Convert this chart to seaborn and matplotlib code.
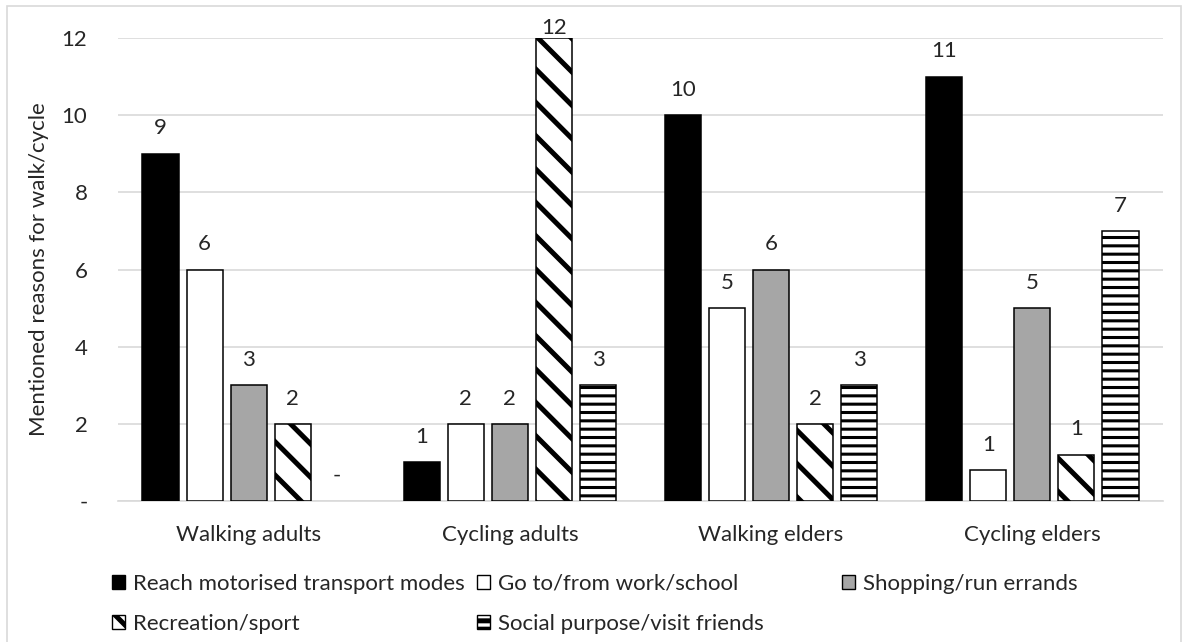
import numpy as np
import pandas as pd
import matplotlib
matplotlib.use("Agg")
import matplotlib.pyplot as plt
import seaborn as sns
from matplotlib.patches import Patch, Rectangle

# -------------------------------
# Data
# -------------------------------
groups = ["Walking adults", "Cycling adults", "Walking elders", "Cycling elders"]
reasons = ["Reach motorised transport modes", "Go to/from work/school",
           "Shopping/run errands", "Recreation/sport", "Social purpose/visit friends"]

reach = [9, 1, 10, 11]
work = [6, 2, 5, 0.8]
shopping = [3, 2, 6, 5]
recreation = [2, 12, 2, 1.2]
social = [0, 3, 3, 7]

y_ticks = [0, 2, 4, 6, 8, 10, 12]
y_tick_labels = ["-", "2", "4", "6", "8", "10", "12"]

bar_colors = ["black", "white", "#A6A6A6", "white", "white"]
bar_hatches = ["", "", "", "\\", "--"]
hatch_widths = [1.0, 1.0, 1.0, 3.6, 2.2]

df = pd.DataFrame(dict(zip(reasons, [reach, work, shopping, recreation, social])), index=groups)
df = df.reset_index(names="group").melt(id_vars="group", var_name="reason", value_name="count")

# -------------------------------
# Style
# -------------------------------
sns.set_style("white")
plt.rcParams["font.family"] = ["Lato", "DejaVu Sans"]
plt.rcParams["hatch.linewidth"] = 3.6
FS = 16
grid_col = "#D9D9D9"

W, H = 1185, 642
fig = plt.figure(figsize=(W / 100, H / 100), dpi=100)
ax = fig.add_axes([118 / W, 1 - 501 / H, (1163 - 118) / W, (501 - 38) / H])

sns.barplot(data=df, x="group", y="count", hue="reason", order=groups, hue_order=reasons,
            palette=dict(zip(reasons, bar_colors)), saturation=1, width=0.843, gap=0.18,
            edgecolor="black", linewidth=1.1, legend=False, ax=ax, zorder=3)

ax.set_ylim(0, 12)
ax.set_xlim(-0.5, len(groups) - 0.5)
ax.set_yticks(y_ticks)
ax.set_yticklabels(y_tick_labels)
ax.yaxis.grid(True, color=grid_col, linewidth=1.2, zorder=0)
ax.set_axisbelow(True)
for s in ["top", "right", "left"]:
    ax.spines[s].set_visible(False)
ax.spines["bottom"].set_color(grid_col)
ax.spines["bottom"].set_linewidth(1.2)
ax.tick_params(axis="both", length=0, labelsize=FS)
ax.tick_params(axis="y", pad=22)
ax.tick_params(axis="x", pad=17)
ax.set_xlabel("")
ax.set_ylabel("Mentioned reasons for walk/cycle", fontsize=FS, labelpad=9)

# hatches + labels
for cont, hatch, hw in zip(ax.containers, bar_hatches, hatch_widths):
    for bar in cont:
        bar.set_hatch(hatch)
        if hasattr(bar, "set_hatch_linewidth"):
            bar.set_hatch_linewidth(hw)
        h = bar.get_height()
        if h == 0:
            bar.set_linewidth(0)
            txt = "-"
        else:
            txt = f"{h:.0f}"
        off = 0 if h >= 12 else 11
        ax.annotate(txt, (bar.get_x() + bar.get_width() / 2, h), xytext=(0, off),
                    textcoords="offset points", ha="center", va="bottom", fontsize=FS)

# -------------------------------
# Legend (three equal-width columns, like the original)
# -------------------------------
handles = [Patch(facecolor=c, edgecolor="black", hatch=h, linewidth=1.0)
           for c, h in zip(bar_colors, bar_hatches)]
columns = [[0, 3], [1, 4], [2]]
col_x = [112, 477, 842]
for idx, x in zip(columns, col_x):
    leg = fig.legend([handles[i] for i in idx], [reasons[i] for i in idx],
                     loc="upper left", bbox_to_anchor=(x / W, 1 - 574 / H),
                     frameon=False, fontsize=FS, borderpad=0, borderaxespad=0,
                     handlelength=0.6, handleheight=0.6, handletextpad=0.35,
                     labelspacing=0.9)

# outer chart border
fig.add_artist(Rectangle((7 / W, -0.02), (1181 - 7) / W, 1.02 - 6 / H,
                         transform=fig.transFigure, fill=False,
                         edgecolor=grid_col, linewidth=1.2))

plt.savefig("out.png", dpi=100)
